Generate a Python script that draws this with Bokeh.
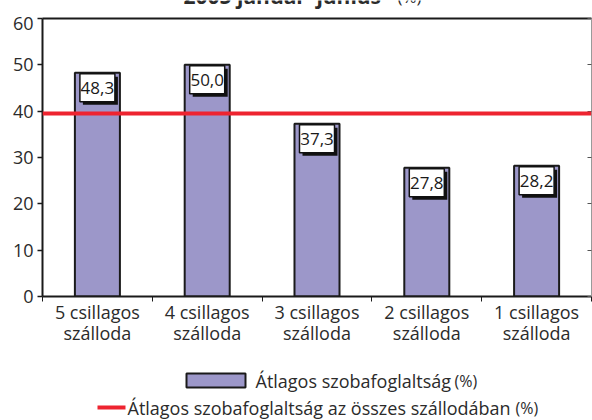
from bokeh.plotting import figure
from bokeh.layouts import column
from bokeh.models import Range1d, FixedTicker, LinearAxis, Span
from bokeh.core.properties import value
from bokeh.embed import file_html
from bokeh.resources import INLINE

# ---- data ----
categories = ["5 csillagos\nszálloda", "4 csillagos\nszálloda", "3 csillagos\nszálloda",
              "2 csillagos\nszálloda", "1 csillagos\nszálloda"]
occupancy = [48.3, 50.0, 37.3, 27.8, 28.2]
value_labels = ["48,3", "50,0", "37,3", "27,8", "28,2"]
overall_avg = 39.5
y_ticks = [0, 10, 20, 30, 40, 50, 60]
title_main = "2005 január–június"
pct = "(%)"
legend_bar = "Átlagos szobafoglaltság"
legend_line = "Átlagos szobafoglaltság az összes szállodában"

FONT = "Open Sans"
TXT = "#2b2b2b"
BAR = "#9C97C9"
RED = "#EE2430"
W = 592
YMAX = 60

# ---- layout sizes (pixels) ----
T_H = 16                 # strip holding the (cut) title
BL, BR, BT, BB = 42, 1, 2, 56
FH = 278
P_H = BT + FH + BB
L_H = 420 - T_H - P_H
FW = W - BL - BR


def strip(h):
    # x in page pixels (frame aligned with the main chart), y measured from the strip top
    f = figure(width=W, height=h, x_range=Range1d(BL, W - BR), y_range=Range1d(h, 0),
               output_backend="svg", toolbar_location=None,
               min_border_left=BL, min_border_right=BR,
               min_border_top=0, min_border_bottom=0,
               x_axis_type=None, y_axis_type=None)
    f.outline_line_color = None
    f.background_fill_color = "white"
    f.border_fill_color = "white"
    return f


# ---- title strip (title mostly outside the window, as in the reference) ----
tfig = strip(T_H)
tfig.text(x=[183], y=[-5], text=[title_main], text_font=value(FONT), text_font_style="bold",
          text_font_size="21px", text_color=TXT, text_baseline="alphabetic")
tfig.text(x=[397], y=[-4], text=[pct], text_font=value(FONT),
          text_font_size="17px", text_color=TXT, text_baseline="alphabetic")

# ---- main chart ----
xs = [i + 0.5 for i in range(len(categories))]

p = figure(width=W, height=P_H, x_range=Range1d(0, len(categories)), y_range=Range1d(0, YMAX),
           output_backend="svg", toolbar_location=None,
           min_border_left=BL, min_border_right=BR, min_border_top=BT, min_border_bottom=BB,
           x_axis_type=None, y_axis_type=None)
p.outline_line_color = None
p.background_fill_color = "white"
p.border_fill_color = "white"

yaxis = LinearAxis(ticker=FixedTicker(ticks=y_ticks, minor_ticks=[]),
                   axis_line_color="#1a1a1a", axis_line_width=2,
                   major_tick_line_color="#1a1a1a", major_tick_line_width=1.5,
                   major_tick_out=5, major_tick_in=0, minor_tick_out=0, minor_tick_in=0,
                   major_label_text_font=FONT, major_label_text_font_size="18px",
                   major_label_text_color=TXT, major_label_standoff=4)
p.add_layout(yaxis, "left")

raxis = LinearAxis(ticker=FixedTicker(ticks=y_ticks, minor_ticks=[]),
                   axis_line_color="#9a9a9a", axis_line_width=1,
                   major_tick_line_color="#555555", major_tick_out=0, major_tick_in=4,
                   minor_tick_out=0, minor_tick_in=0, major_label_text_color=None)
p.add_layout(raxis, "right")

taxis = LinearAxis(ticker=FixedTicker(ticks=[], minor_ticks=[]),
                   axis_line_color="#1a1a1a", axis_line_width=2,
                   major_tick_out=0, major_tick_in=0, minor_tick_out=0, minor_tick_in=0,
                   major_label_text_color=None)
p.add_layout(taxis, "above")

xaxis = LinearAxis(ticker=FixedTicker(ticks=xs, minor_ticks=list(range(len(categories) + 1))),
                   major_label_overrides={x: c for x, c in zip(xs, categories)},
                   axis_line_color="#1a1a1a", axis_line_width=2,
                   major_tick_out=0, major_tick_in=0,
                   minor_tick_line_color="#1a1a1a", minor_tick_out=5, minor_tick_in=0,
                   major_label_text_font=FONT, major_label_text_font_size="18px",
                   major_label_text_line_height=0.9,
                   major_label_text_color=TXT, major_label_standoff=-2)
p.add_layout(xaxis, "below")

p.vbar(x=xs, top=occupancy, width=0.41, fill_color=BAR, line_color="#1a1a1a", line_width=2)

p.add_layout(Span(location=overall_avg, dimension="width", line_color=RED, line_width=4))

pxu_y = FH / YMAX
pxu_x = FW / len(categories)
box_y = [v - 15 / pxu_y for v in occupancy]
sh_x = [x + 3 / pxu_x for x in xs]
sh_y = [v - 18 / pxu_y for v in occupancy]
p.rect(x=sh_x, y=sh_y, width=35, height=28, width_units="screen", height_units="screen",
       fill_color="#111111", line_color=None)
p.rect(x=xs, y=box_y, width=35, height=28, width_units="screen", height_units="screen",
       fill_color="white", line_color="#111111", line_width=1.5)
p.text(x=xs, y=box_y, text=value_labels, text_align="center", text_baseline="middle",
       text_font=value(FONT), text_font_size="17px", text_color="#1a1a1a")

# ---- legend strip ----
lfig = strip(L_H)
top0 = T_H + P_H
lfig.quad(left=[186], right=[245], top=[373 - top0], bottom=[387 - top0],
          fill_color=BAR, line_color="#1a1a1a", line_width=2)
lfig.text(x=[255], y=[380 - top0], text=[legend_bar], text_font=value(FONT),
          text_font_size="18px", text_color=TXT, text_baseline="middle")
lfig.text(x=[454], y=[380 - top0], text=[pct], text_font=value(FONT),
          text_font_size="16px", text_color=TXT, text_baseline="middle")
lfig.segment(x0=[97], x1=[125], y0=[407 - top0], y1=[407 - top0],
             line_color=RED, line_width=4)
lfig.text(x=[127], y=[407 - top0], text=[legend_line], text_font=value(FONT),
          text_font_size="18px", text_color=TXT, text_baseline="middle")
lfig.text(x=[515], y=[407 - top0], text=[pct], text_font=value(FONT),
          text_font_size="16px", text_color=TXT, text_baseline="middle")

layout = column(tfig, p, lfig, spacing=0)
open("out.html", "w").write(file_html(layout, INLINE))
